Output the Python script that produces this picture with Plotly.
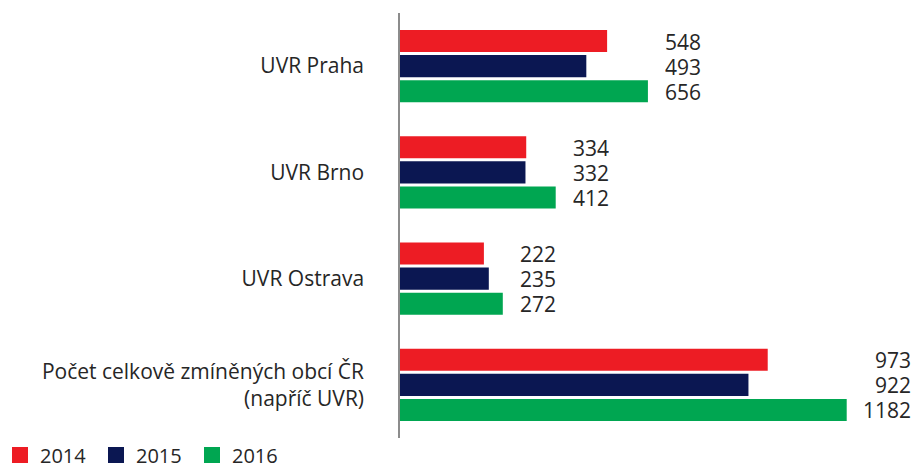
import plotly.graph_objects as go

categories = ["UVR Praha", "UVR Brno", "UVR Ostrava",
              "Počet celkově zmíněných obcí ČR<br>(napříč UVR)"]
years = ["2014", "2015", "2016"]
values_2014 = [548, 334, 222, 973]
values_2015 = [493, 332, 235, 922]
values_2016 = [656, 412, 272, 1182]

series = [values_2014, values_2015, values_2016]
colors = ["#ED1C24", "#0B1752", "#00A651"]
FONT = "Open Sans"
TEXT = "#262626"
FS = 21

fig = go.Figure()
for name, vals, col in zip(years, series, colors):
    fig.add_trace(go.Bar(
        y=categories, x=vals, name=name, orientation="h",
        marker=dict(color=col, line=dict(width=0)),
        hoverinfo="x+name", showlegend=False, legendgroup=name,
    ))
# legend entries (square swatches)
for name, col in zip(years, colors):
    fig.add_trace(go.Scatter(
        x=[None], y=[None], mode="markers", name=name, legendgroup=name,
        marker=dict(symbol="square", size=16, color=col),
        showlegend=True, hoverinfo="skip",
    ))

# value labels: right-aligned per category group, just past the longest bar
pitch = 25
for ci, cat in enumerate(categories):
    group = [s[ci] for s in series]
    gmax = max(group)
    width = len(str(gmax))
    for si, v in enumerate(group):
        fig.add_annotation(
            x=gmax, y=cat, xref="x", yref="y",
            text=str(v), showarrow=False,
            xanchor="right", yanchor="middle", height=23, valign="middle",
            xshift=22 + 11 * width,
            yshift=(1 - si) * pitch,
            font=dict(family=FONT, size=FS, color=TEXT),
        )

fig.update_layout(
    width=913, height=471,
    margin=dict(l=400, r=13, t=13, b=33, autoexpand=False),
    paper_bgcolor="white", plot_bgcolor="white",
    barmode="group", bargap=0.294, bargroupgap=0.12,
    font=dict(family=FONT, size=FS, color=TEXT),
    showlegend=True,
    legend=dict(orientation="h", xref="container", x=0,
                yref="paper", y=0.006, yanchor="top", xanchor="left",
                entrywidth=51, entrywidthmode="pixels",
                itemsizing="trace",
                font=dict(family=FONT, size=20, color=TEXT),
                traceorder="normal"),
    xaxis=dict(range=[0, 1323], showgrid=False, zeroline=False,
               showticklabels=False, showline=False, fixedrange=True,
               automargin=False),
    yaxis=dict(autorange="reversed", showgrid=False, zeroline=False,
               showline=True, linecolor="#8c8c8c", linewidth=1.5,
               ticks="", ticklabelstandoff=30, automargin=False,
               tickfont=dict(family=FONT, size=FS, color=TEXT)),
)

fig.write_html("out.html", config={"displayModeBar": False},
               post_script="document.body.style.margin='0';document.body.style.overflow='hidden';")
